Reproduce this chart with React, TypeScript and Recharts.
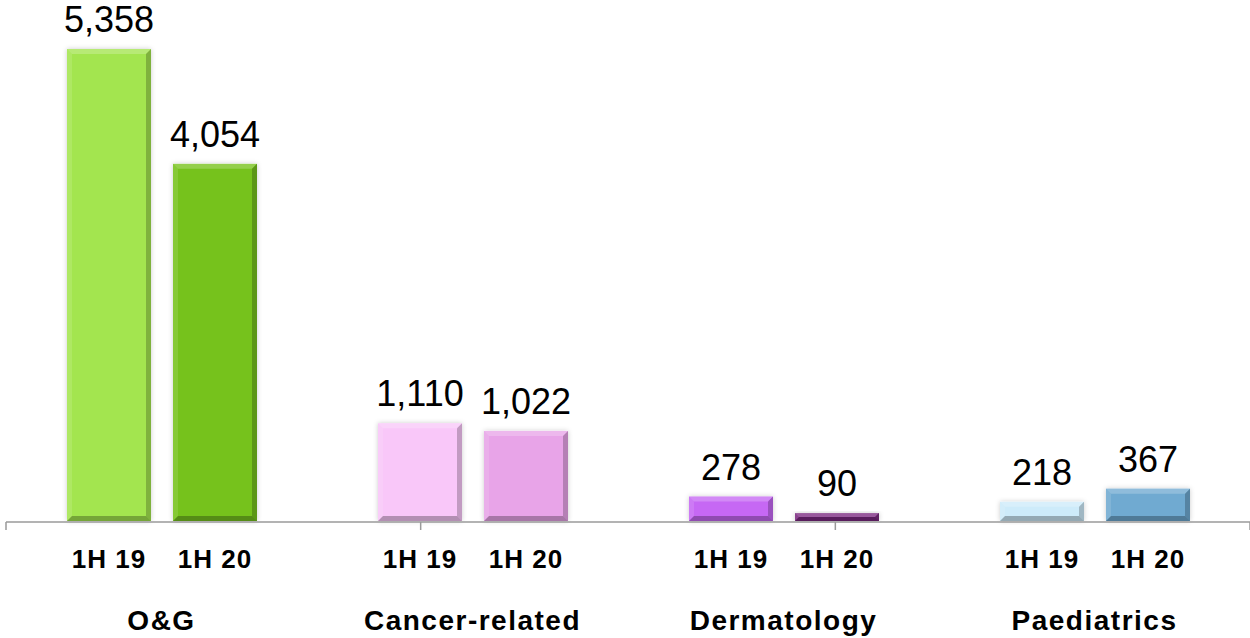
import { BarChart, Bar, XAxis, YAxis, Cell, LabelList } from "recharts";

const categories = ["O&G", "Cancer-related", "Dermatology", "Paediatrics"];
const values1H19 = [5358, 1110, 278, 218];
const values1H20 = [4054, 1022, 90, 367];
const periodLabels = ["1H 19", "1H 20"];
const boundaryTicks = [0, 1, 2, 3, 4];

const colors1H19 = ["#a3e54f", "#f9c7f9", "#c668f4", "#cdebfa"];
const colors1H20 = ["#76c21a", "#e8a4e8", "#7c2a80", "#70aad1"];

const data = categories.map((name, i) => ({
  name,
  h19: values1H19[i],
  h20: values1H20[i],
}));

const FONT = "'Liberation Sans', Arial, sans-serif";

function BevelBar(props: any) {
  const { x, y, width: w, height: h, fill } = props;
  if (!h || h <= 0) return null;
  const b = Math.min(5, h / 2, w / 2);
  return (
    <g filter="url(#barShadow)">
      <rect x={x} y={y} width={w} height={h} fill={fill} />
      <polygon
        points={`${x},${y} ${x + w},${y} ${x + w - b},${y + b} ${x + b},${y + b}`}
        fill="#fff"
        fillOpacity={0.22}
      />
      <polygon
        points={`${x},${y} ${x + b},${y + b} ${x + b},${y + h - b} ${x},${y + h}`}
        fill="#fff"
        fillOpacity={0.12}
      />
      <polygon
        points={`${x + w},${y} ${x + w},${y + h} ${x + w - b},${y + h - b} ${x + w - b},${y + b}`}
        fill="#000"
        fillOpacity={0.22}
      />
      <polygon
        points={`${x},${y + h} ${x + w},${y + h} ${x + w - b},${y + h - b} ${x + b},${y + h - b}`}
        fill="#000"
        fillOpacity={0.28}
      />
    </g>
  );
}

function ValueLabel(props: any) {
  const { x, y, width, value } = props;
  return (
    <text
      x={x + width / 2}
      y={y - 17}
      textAnchor="middle"
      fontFamily={FONT}
      fontSize={36}
      fill="#000"
    >
      {Number(value).toLocaleString("en-US")}
    </text>
  );
}

function makePeriodLabel(label: string) {
  return function PeriodLabel(props: any) {
    const { x, y, width, height } = props;
    return (
      <text
        x={x + width / 2}
        y={y + height + 47}
        textAnchor="middle"
        fontFamily={FONT}
        fontWeight="bold"
        fontSize={26}
        letterSpacing={1}
        fill="#000"
      >
        {label}
      </text>
    );
  };
}

function CategoryTick(props: any) {
  const { x, y, payload } = props;
  return (
    <text
      x={x}
      y={y + 109}
      textAnchor="middle"
      fontFamily={FONT}
      fontWeight="bold"
      fontSize={28}
      letterSpacing={1.5}
      fill="#000"
    >
      {payload.value}
    </text>
  );
}

const EmptyTick = () => <g />;

export default function App() {
  return (
    <div style={{ position: "absolute", left: 0, top: 0, width: 1250, height: 638, background: "#fff" }}>
      <BarChart
        width={1250}
        height={638}
        data={data}
        margin={{ top: 49, right: 0, left: 6, bottom: 115 }}
        barCategoryGap={61}
        barGap={22}
      >
        <defs>
          <filter id="barShadow" x="-20%" y="-20%" width="140%" height="140%">
            <feDropShadow dx="0" dy="0" stdDeviation="2.5" floodColor="#000" floodOpacity="0.2" />
          </filter>
        </defs>
        <XAxis
          dataKey="name"
          height={1}
          axisLine={false}
          tickLine={false}
          tickSize={0}
          tickMargin={0}
          tick={<CategoryTick />}
          interval={0}
        />
        <XAxis
          xAxisId="bounds"
          type="number"
          domain={[0, 4]}
          allowDataOverflow
          ticks={boundaryTicks}
          interval={0}
          height={1}
          tick={EmptyTick}
          tickSize={8}
          axisLine={{ stroke: "#9a9a9a", strokeWidth: 1.5 }}
          tickLine={{ stroke: "#9a9a9a", strokeWidth: 1.5 }}
        />
        <YAxis hide domain={[0, 5358]} />
        <Bar dataKey="h19" shape={<BevelBar />} isAnimationActive={false}>
          {data.map((_, i) => (
            <Cell key={`a${i}`} fill={colors1H19[i]} />
          ))}
          <LabelList dataKey="h19" content={<ValueLabel />} />
          <LabelList dataKey="h19" content={makePeriodLabel(periodLabels[0])} />
        </Bar>
        <Bar dataKey="h20" shape={<BevelBar />} isAnimationActive={false}>
          {data.map((_, i) => (
            <Cell key={`b${i}`} fill={colors1H20[i]} />
          ))}
          <LabelList dataKey="h20" content={<ValueLabel />} />
          <LabelList dataKey="h20" content={makePeriodLabel(periodLabels[1])} />
        </Bar>
      </BarChart>
    </div>
  );
}
